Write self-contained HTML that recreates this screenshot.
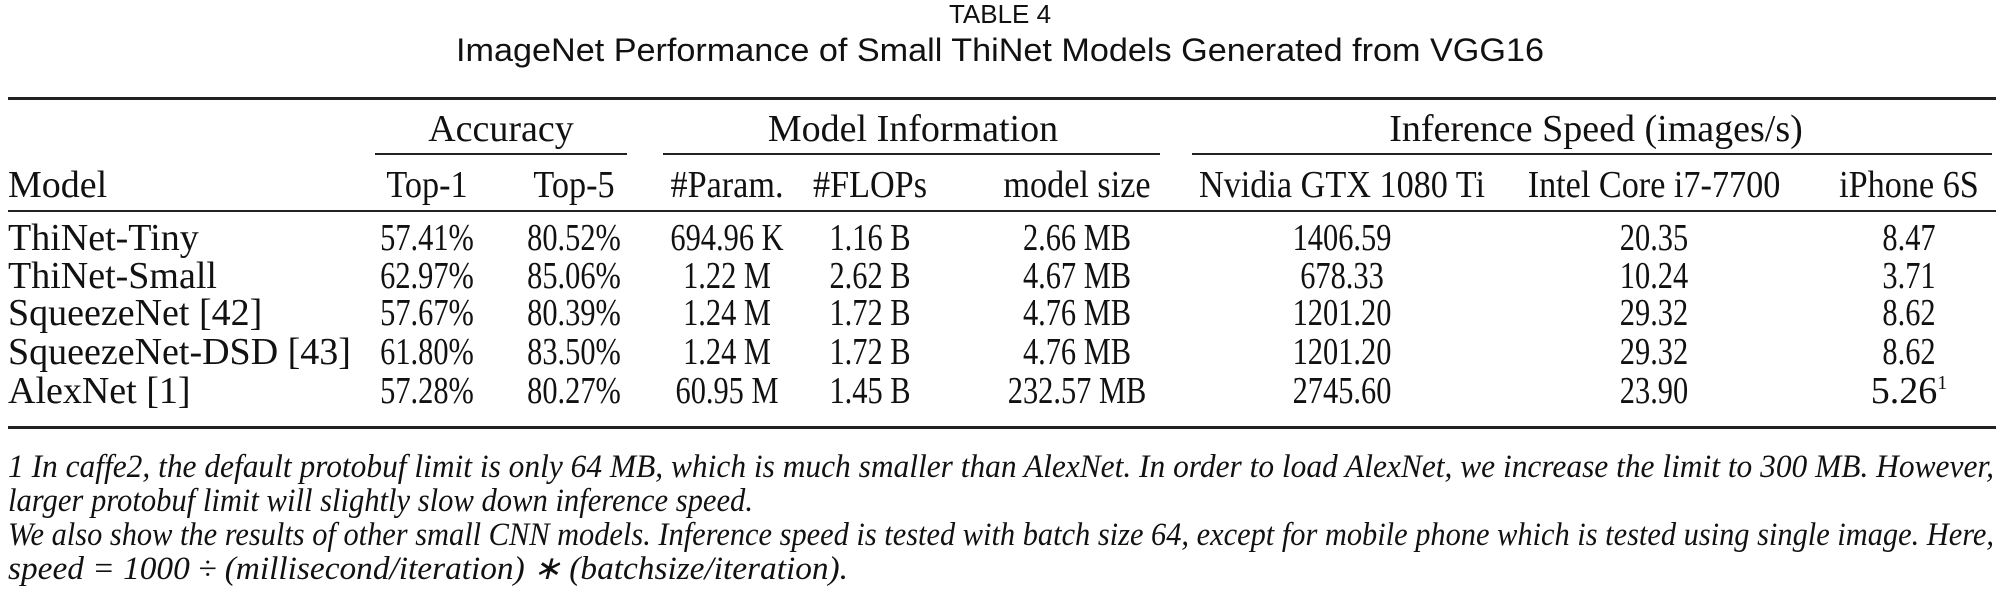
<!DOCTYPE html>
<html><head><meta charset="utf-8"><style>
html,body{margin:0;padding:0;background:#fff;}
svg{display:block}
.s{font-family:"Liberation Serif",serif;font-size:38px;fill:#111}
.h{font-family:"Liberation Sans",sans-serif;fill:#111}
.i{font-family:"Liberation Serif",serif;font-style:italic;font-size:33px;fill:#111}
</style></head><body>
<svg width="2000" height="595" viewBox="0 0 2000 595">
<text class="h" x="1000" y="23" font-size="26" text-anchor="middle">TABLE 4</text>
<text class="h" x="1000" y="61" font-size="32" text-anchor="middle" textLength="1088" lengthAdjust="spacingAndGlyphs">ImageNet Performance of Small ThiNet Models Generated from VGG16</text>
<rect x="8" y="97" width="1988" height="3" fill="#222"/>
<text class="s" x="501" y="141" text-anchor="middle">Accuracy</text>
<text class="s" x="913" y="141" text-anchor="middle">Model Information</text>
<text class="s" x="1596" y="141" text-anchor="middle">Inference Speed (images/s)</text>
<rect x="375" y="153" width="252" height="2" fill="#222"/>
<rect x="663" y="153" width="497" height="2" fill="#222"/>
<rect x="1192" y="153" width="800" height="2" fill="#222"/>
<g id="hdr"></g>
<rect x="8" y="210" width="1988" height="2" fill="#222"/>
<g id="body"></g>
<rect x="8" y="426" width="1988" height="3" fill="#222"/>
<text class="i" x="8" y="477" textLength="1986" lengthAdjust="spacingAndGlyphs">1 In caffe2, the default protobuf limit is only 64 MB, which is much smaller than AlexNet. In order to load AlexNet, we increase the limit to 300 MB. However,</text>
<text class="i" x="8" y="511" textLength="745" lengthAdjust="spacingAndGlyphs">larger protobuf limit will slightly slow down inference speed.</text>
<text class="i" x="8" y="545" textLength="1986" lengthAdjust="spacingAndGlyphs">We also show the results of other small CNN models. Inference speed is tested with batch size 64, except for mobile phone which is tested using single image. Here,</text>
<text class="i" x="8" y="579" textLength="840" lengthAdjust="spacingAndGlyphs">speed = 1000 ÷ (millisecond/iteration) ∗ (batchsize/iteration).</text>
</svg>
<script>
const NS="http://www.w3.org/2000/svg";
const headers=["Model","Top-1","Top-5","#Param.","#FLOPs","model size","Nvidia GTX 1080 Ti","Intel Core i7-7700","iPhone 6S"];
const models=["ThiNet-Tiny","ThiNet-Small","SqueezeNet [42]","SqueezeNet-DSD [43]","AlexNet [1]"];
const top1=["57.41%","62.97%","57.67%","61.80%","57.28%"];
const top5=["80.52%","85.06%","80.39%","83.50%","80.27%"];
const params=["694.96 K","1.22 M","1.24 M","1.24 M","60.95 M"];
const flops=["1.16 B","2.62 B","1.72 B","1.72 B","1.45 B"];
const sizes=["2.66 MB","4.67 MB","4.76 MB","4.76 MB","232.57 MB"];
const gtx=["1406.59","678.33","1201.20","1201.20","2745.60"];
const cpu=["20.35","10.24","29.32","29.32","23.90"];
const phone=["8.47","3.71","8.62","8.62","5.26"];
const colX=[8,427,574,727,870,1077,1342,1654,1909];
const rowY=[250,288,325,364,403];
function txt(parent,s,x,y,anchor){const t=document.createElementNS(NS,"text");t.setAttribute("class","s");t.setAttribute("x",x);t.setAttribute("y",y);t.setAttribute("text-anchor",anchor);t.textContent=s;parent.appendChild(t);return t;}
function squeeze(t,f){const w=t.getComputedTextLength();t.setAttribute("textLength",(w*f).toFixed(1));t.setAttribute("lengthAdjust","spacingAndGlyphs");}
const hdr=document.getElementById("hdr");
headers.forEach((h,i)=>{const t=txt(hdr,h,colX[i],197,i?"middle":"start");


if(i>0)squeeze(t,0.9);});
const body=document.getElementById("body");
const cols=[models,top1,top5,params,flops,sizes,gtx,cpu,phone];
models.forEach((m,r)=>{cols.forEach((c,i)=>{const t=txt(body,c[r],colX[i],rowY[r],i?"middle":"start");


if(i>0)squeeze(t,0.8);
if(i===8&&r===4){const sp=document.createElementNS(NS,"tspan");sp.setAttribute("dy","-14");sp.setAttribute("font-size","20");sp.textContent="1";t.removeAttribute("textLength");t.appendChild(sp);}
});});
</script>
</body></html>
